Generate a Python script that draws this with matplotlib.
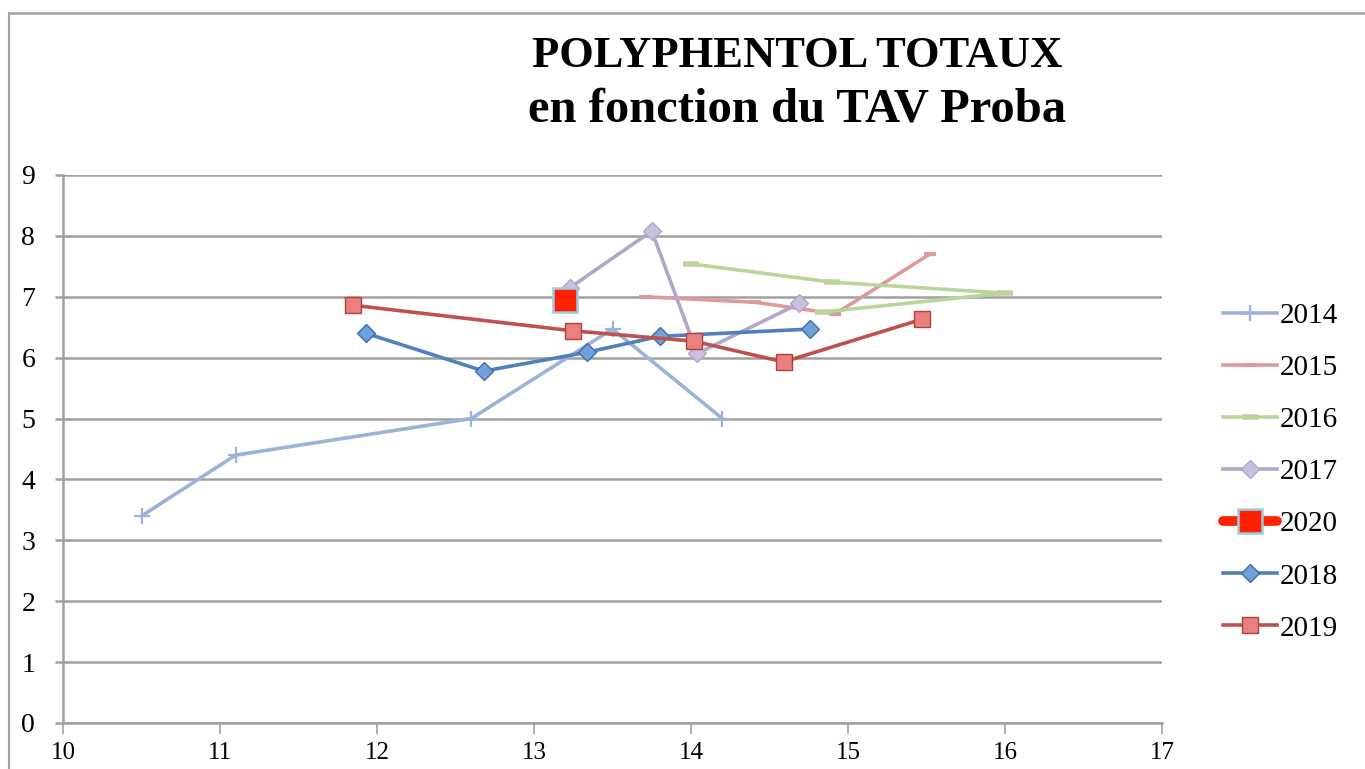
import numpy as np
import matplotlib
matplotlib.use('Agg')
from matplotlib import pyplot as plt
from matplotlib.lines import Line2D

# data
x2014 = [10.5, 11.1, 12.6, 13.5, 14.2]
y2014 = [3.4, 4.4, 5.0, 6.47, 5.0]

x2015 = [13.71, 14.41, 14.92, 15.52]
y2015 = [7.0, 6.91, 6.72, 7.70]

x2016 = [14.0, 14.9, 16.0, 14.84]
y2016 = [7.54, 7.24, 7.06, 6.75]

x2017 = [13.23, 13.75, 14.04, 14.69]
y2017 = [7.15, 8.08, 6.07, 6.89]

x2020 = [13.2]
y2020 = [6.95]

x2018 = [11.93, 12.68, 13.34, 13.80, 14.76]
y2018 = [6.40, 5.78, 6.09, 6.35, 6.47]

x2019 = [11.85, 13.25, 14.02, 14.59, 15.47]
y2019 = [6.86, 6.44, 6.27, 5.93, 6.63]

xticks = list(range(10, 18))
yticks = list(range(0, 10))

W, H = 1365, 769
fig = plt.figure(figsize=(W / 100, H / 100), dpi=100)
ax = fig.add_axes([63 / W, 46 / H, 1099 / W, 548 / H])

grey = '#a0a0a0'

# series
ax.plot(x2014, y2014, color='#9bb3d9', lw=2.6, marker='+', ms=11, mew=1.6, label='2014', zorder=3)
ax.plot(x2015, y2015, color='#dc9a98', lw=2.6, marker='_', ms=9, mew=3, label='2015', zorder=3)
ax.plot(x2016, y2016, color='#bad59b', lw=2.6, marker='_', ms=12, mew=4, label='2016', zorder=3)
ax.plot(x2017, y2017, color='#b3a5cc', lw=2.6, marker='D', ms=9, mfc='#cbbfe0', mec='#b3a5cc', label='2017', zorder=3)
ax.plot(x2018, y2018, color='#4f81bd', lw=2.6, marker='D', ms=9, mfc='#6fa0da', mec='#3e6ea8', label='2018', zorder=4)
ax.plot(x2019, y2019, color='#c0504d', lw=2.6, marker='s', ms=11, mfc='#e8807e', mec='#b04040', label='2019', zorder=4)
ax.plot(x2020, y2020, color='#ff2200', lw=7, solid_capstyle='round', marker='s', ms=17,
        mfc='#ff2200', mec='#9ccbe0', mew=1.8, label='2020', zorder=5)

ax.set_xlim(10, 17)
ax.set_ylim(0, 9)
ax.set_xticks(xticks)
ax.set_yticks(yticks)
ax.set_xticklabels([str(v) for v in xticks], family='Liberation Serif', fontsize=18)
ax.set_yticklabels([str(v) for v in yticks], family='Liberation Serif', fontsize=20)
ax.yaxis.grid(True, color=grey, lw=1.8)
ax.set_axisbelow(True)
for s in ['top', 'right']:
    ax.spines[s].set_visible(False)
for s in ['left', 'bottom']:
    ax.spines[s].set_color(grey)
    ax.spines[s].set_linewidth(1.8)
ax.tick_params(axis='y', length=6, width=1.8, color=grey, pad=14)
ax.tick_params(axis='x', length=8, width=1.2, color=grey, pad=6)

# legend in the reference order
handles, labels = ax.get_legend_handles_labels()
order = ['2014', '2015', '2016', '2017', '2020', '2018', '2019']
hmap = dict(zip(labels, handles))
leg = fig.legend([hmap[k] for k in order], order, loc='upper left',
                 bbox_to_anchor=(1211 / W, 1 - 291 / H), frameon=False,
                 prop={'family': 'Liberation Serif', 'size': 21},
                 handlelength=1.85, labelspacing=0.88, handletextpad=0.12,
                 borderaxespad=0)

# title
fig.text(797 / W, 1 - 56 / H, 'POLYPHENTOL TOTAUX', ha='center', va='center',
         family='Liberation Serif', weight='bold', fontsize=32)
fig.text(797 / W, 1 - 109 / H, 'en fonction du TAV Proba', ha='center', va='center',
         family='Liberation Serif', weight='bold', fontsize=35)

# outer chart frame (left and top edges visible)
fig.add_artist(Line2D([9 / W, 9 / W], [0, 1 - 13 / H], color=grey, lw=1.5))
fig.add_artist(Line2D([9 / W, 1], [1 - 13 / H, 1 - 13 / H], color=grey, lw=1.8))

fig.savefig('out.png', dpi=100)
